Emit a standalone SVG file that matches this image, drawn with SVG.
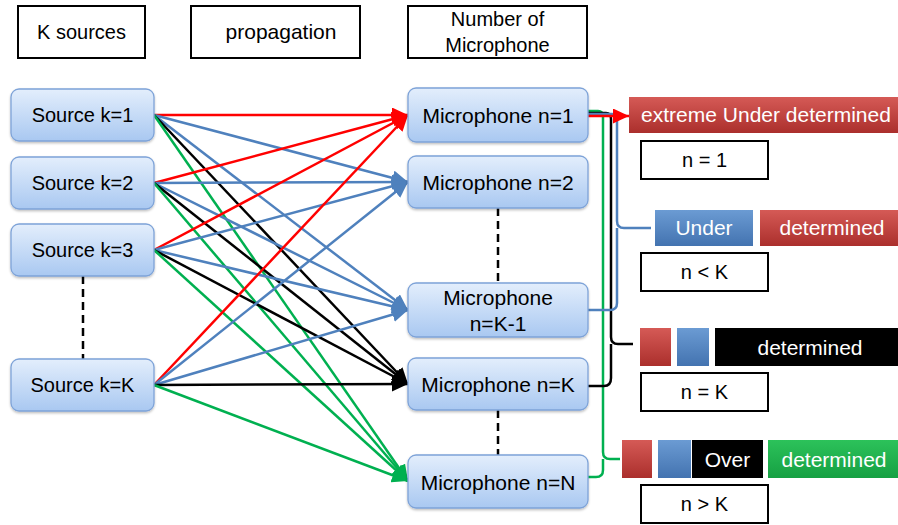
<svg xmlns="http://www.w3.org/2000/svg" width="898" height="525" viewBox="0 0 898 525">
<style>
.hdr{fill:#fff;stroke:#000;stroke-width:2}
.node{fill:url(#gNode);stroke:#7ea3d8;stroke-width:1.3;filter:url(#sh)}
.t{font-family:"Liberation Sans",Arial,sans-serif;font-size:20px;fill:#000;text-anchor:middle}
.m{font-size:21px}
.w{fill:#fff}
.ln{fill:none;stroke-width:2.5}
.r{stroke:#ff0000}
.b{stroke:#4f81bd}
.k{stroke:#000}
.g{stroke:#00b050}
.dash{stroke:#000;stroke-width:2.5;stroke-dasharray:8,5;fill:none}
.lbl{fill:#fff;stroke:#000;stroke-width:2}
</style>
<defs>
<filter id="sh" x="-10%" y="-10%" width="120%" height="130%"><feDropShadow dx="0" dy="1.5" stdDeviation="1.2" flood-color="#000" flood-opacity="0.25"/></filter>
<linearGradient id="gNode" x1="0" y1="0" x2="0" y2="1"><stop offset="0" stop-color="#e3eefc"/><stop offset="1" stop-color="#a9c8f1"/></linearGradient>
<linearGradient id="gRed" x1="0" y1="0" x2="0" y2="1"><stop offset="0" stop-color="#d55a56"/><stop offset="1" stop-color="#ab2f2c"/></linearGradient>
<linearGradient id="gBlue" x1="0" y1="0" x2="0" y2="1"><stop offset="0" stop-color="#6b9bd3"/><stop offset="1" stop-color="#4373b0"/></linearGradient>
<linearGradient id="gGreen" x1="0" y1="0" x2="0" y2="1"><stop offset="0" stop-color="#2cc25a"/><stop offset="1" stop-color="#16a043"/></linearGradient>
<marker id="aR" markerUnits="userSpaceOnUse" markerWidth="17" markerHeight="15" refX="16" refY="7.5" orient="auto"><path d="M0,0 L16,7.5 L0,15 z" fill="#ff0000"/></marker>
<marker id="aB" markerUnits="userSpaceOnUse" markerWidth="17" markerHeight="15" refX="16" refY="7.5" orient="auto"><path d="M0,0 L16,7.5 L0,15 z" fill="#4f81bd"/></marker>
<marker id="aK" markerUnits="userSpaceOnUse" markerWidth="17" markerHeight="15" refX="16" refY="7.5" orient="auto"><path d="M0,0 L16,7.5 L0,15 z" fill="#000"/></marker>
<marker id="aG" markerUnits="userSpaceOnUse" markerWidth="17" markerHeight="15" refX="16" refY="7.5" orient="auto"><path d="M0,0 L16,7.5 L0,15 z" fill="#00b050"/></marker>
</defs>
<rect width="898" height="525" fill="#fff"/>

<g id="headers">
<g id="h-sources"><rect class="hdr" x="18" y="6" width="127" height="52"/><text class="t" x="81.5" y="39">K sources</text></g>
<g id="h-propagation"><rect class="hdr" x="191" y="6" width="169" height="52"/><text class="t m" x="281" y="39">propagation</text></g>
<g id="h-mic"><rect class="hdr" x="408" y="6" width="179" height="52"/><text class="t" x="497.5" y="26">Number of</text><text class="t" x="497.5" y="52">Microphone</text></g>
</g>

<g id="connectors">
<g id="from-s1">
<line class="ln r" x1="154" y1="115" x2="408" y2="115" marker-end="url(#aR)"/>
<line class="ln b" x1="154" y1="115" x2="408" y2="182" marker-end="url(#aB)"/>
<line class="ln b" x1="154" y1="115" x2="408" y2="310" marker-end="url(#aB)"/>
<line class="ln k" x1="154" y1="115" x2="408" y2="384" marker-end="url(#aK)"/>
<line class="ln g" x1="154" y1="115" x2="408" y2="481" marker-end="url(#aG)"/>
</g>
<g id="from-s2">
<line class="ln r" x1="154" y1="183" x2="408" y2="115" marker-end="url(#aR)"/>
<line class="ln b" x1="154" y1="183" x2="408" y2="182" marker-end="url(#aB)"/>
<line class="ln b" x1="154" y1="183" x2="408" y2="310" marker-end="url(#aB)"/>
<line class="ln k" x1="154" y1="183" x2="408" y2="384" marker-end="url(#aK)"/>
<line class="ln g" x1="154" y1="183" x2="408" y2="481" marker-end="url(#aG)"/>
</g>
<g id="from-s3">
<line class="ln r" x1="154" y1="250" x2="408" y2="115" marker-end="url(#aR)"/>
<line class="ln b" x1="154" y1="250" x2="408" y2="182" marker-end="url(#aB)"/>
<line class="ln b" x1="154" y1="250" x2="408" y2="310" marker-end="url(#aB)"/>
<line class="ln k" x1="154" y1="250" x2="408" y2="384" marker-end="url(#aK)"/>
<line class="ln g" x1="154" y1="250" x2="408" y2="481" marker-end="url(#aG)"/>
</g>
<g id="from-sK">
<line class="ln r" x1="154" y1="385" x2="408" y2="115" marker-end="url(#aR)"/>
<line class="ln b" x1="154" y1="385" x2="408" y2="182" marker-end="url(#aB)"/>
<line class="ln b" x1="154" y1="385" x2="408" y2="310" marker-end="url(#aB)"/>
<line class="ln k" x1="154" y1="385" x2="408" y2="384" marker-end="url(#aK)"/>
<line class="ln g" x1="154" y1="385" x2="408" y2="481" marker-end="url(#aG)"/>
</g>
<g id="dashes">
<line class="dash" x1="83" y1="276" x2="83" y2="359"/>
<line class="dash" x1="498" y1="208" x2="498" y2="283"/>
<line class="dash" x1="498" y1="410" x2="498" y2="455"/>
</g>
<g id="brackets">
<path class="ln g" d="M588,111 H598 Q603,111 603,117 V452 Q603,459 610,459 H620 M603,459 Q603,466 603,470 Q603,477 596,477 H588"/>
<path class="ln k" d="M588,113 H606 Q611,113 611,119 V337 Q611,344 618,344 H633 M611,344 Q611,351 611,378 Q611,386 604,386 H588"/>
<path class="ln b" d="M588,114 H612 Q617,114 617,120 V221 Q617,228 624,228 H651 M617,228 Q617,235 617,303 Q617,310 610,310 H588"/>
<line class="ln r" x1="588" y1="116" x2="629" y2="116" marker-end="url(#aR)"/>
</g>
</g>

<g id="sources">
<g id="s1"><rect class="node" x="11" y="89" width="143" height="52" rx="8"/><text class="t" x="82.5" y="122">Source k=1</text></g>
<g id="s2"><rect class="node" x="11" y="157" width="143" height="52" rx="8"/><text class="t" x="82.5" y="190">Source k=2</text></g>
<g id="s3"><rect class="node" x="11" y="224" width="143" height="52" rx="8"/><text class="t" x="82.5" y="257">Source k=3</text></g>
<g id="sK"><rect class="node" x="11" y="359" width="143" height="52" rx="8"/><text class="t" x="82.5" y="392">Source k=K</text></g>
</g>

<g id="mics">
<g id="m1"><rect class="node" x="408" y="88" width="180" height="54" rx="8"/><text class="t m" x="498" y="123">Microphone n=1</text></g>
<g id="m2"><rect class="node" x="408" y="156" width="180" height="52" rx="8"/><text class="t m" x="498" y="190">Microphone n=2</text></g>
<g id="mK1"><rect class="node" x="408" y="283" width="180" height="54" rx="8"/><text class="t m" x="498" y="305">Microphone</text><text class="t m" x="498" y="331">n=K-1</text></g>
<g id="mK"><rect class="node" x="408" y="358" width="180" height="52" rx="8"/><text class="t m" x="498" y="392">Microphone n=K</text></g>
<g id="mN"><rect class="node" x="408" y="455" width="180" height="53" rx="8"/><text class="t m" x="498" y="490">Microphone n=N</text></g>
</g>

<g id="cases">
<g id="c1">
<rect x="629" y="97" width="269" height="36" fill="url(#gRed)"/>
<text class="t w" x="766" y="122" style="font-size:21px">extreme Under determined</text>
<rect class="lbl" x="641" y="141" width="127" height="38"/><text class="t" x="704.5" y="167">n = 1</text>
</g>
<g id="c2">
<rect x="655" y="210" width="98" height="36" fill="url(#gBlue)"/>
<text class="t w m" x="704" y="235">Under</text>
<rect x="760" y="210" width="138" height="36" fill="url(#gRed)"/>
<text class="t w m" x="832" y="235">determined</text>
<rect class="lbl" x="641" y="253" width="127" height="38"/><text class="t" x="704.5" y="279">n &lt; K</text>
</g>
<g id="c3">
<rect x="640" y="328" width="31" height="38" fill="url(#gRed)"/>
<rect x="677" y="328" width="32" height="38" fill="url(#gBlue)"/>
<rect x="715" y="328" width="183" height="38" fill="#000"/>
<text class="t w m" x="810" y="355">determined</text>
<rect class="lbl" x="641" y="373" width="127" height="38"/><text class="t" x="704.5" y="399">n = K</text>
</g>
<g id="c4">
<rect x="622" y="440" width="30" height="38" fill="url(#gRed)"/>
<rect x="658" y="440" width="33" height="38" fill="url(#gBlue)"/>
<rect x="692" y="440" width="71" height="38" fill="#000"/>
<text class="t w m" x="727.5" y="467">Over</text>
<rect x="768" y="440" width="130" height="38" fill="url(#gGreen)"/>
<text class="t w m" x="834" y="467">determined</text>
<rect class="lbl" x="641" y="485" width="127" height="38"/><text class="t" x="704.5" y="511">n &gt; K</text>
</g>
</g>
</svg>
